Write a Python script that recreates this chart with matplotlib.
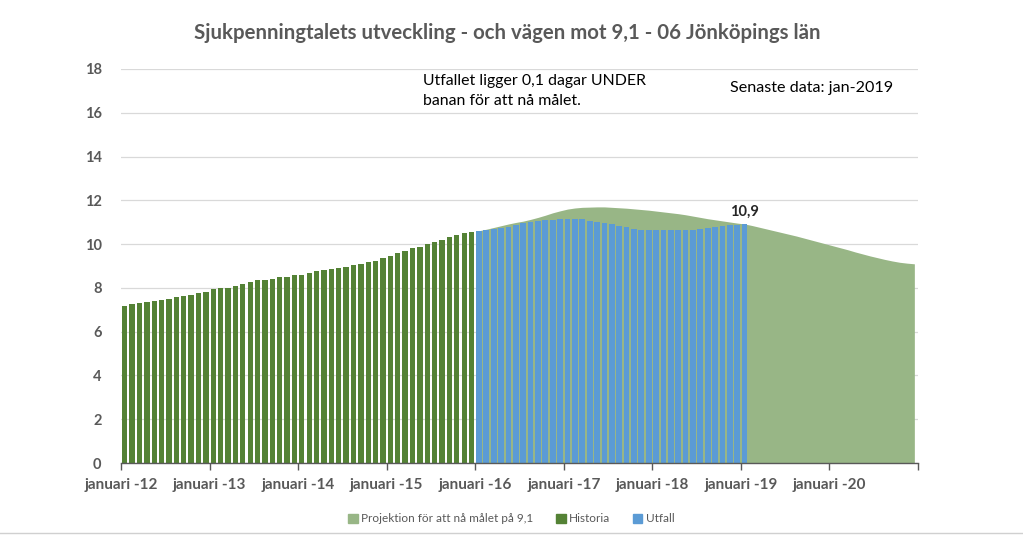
import matplotlib.pyplot as plt
import numpy as np

plt.rcParams['font.family'] = ['Lato', 'DejaVu Sans']

# månadsvärden, jan-12 .. dec-15
historia = [7.17, 7.28, 7.32, 7.37, 7.42, 7.43, 7.49, 7.57, 7.61, 7.69, 7.77, 7.83,
            7.96, 7.98, 8.01, 8.10, 8.16, 8.25, 8.34, 8.36, 8.42, 8.50, 8.51, 8.57,
            8.60, 8.69, 8.76, 8.80, 8.85, 8.91, 8.97, 9.05, 9.10, 9.17, 9.23, 9.35,
            9.46, 9.59, 9.70, 9.81, 9.87, 10.00, 10.10, 10.20, 10.31, 10.40, 10.52, 10.57]

# jan-16 .. jan-19
utfall = [10.61, 10.64, 10.67, 10.72, 10.80, 10.89, 10.95, 11.01, 11.06, 11.09, 11.12, 11.15,
          11.16, 11.16, 11.13, 11.07, 11.00, 10.95, 10.90, 10.84, 10.77, 10.70, 10.64, 10.63,
          10.63, 10.63, 10.63, 10.64, 10.66, 10.66, 10.67, 10.74, 10.80, 10.83, 10.86, 10.89,
          10.92]

# jan-16 .. dec-20
projektion = [10.61, 10.68, 10.76, 10.84, 10.92, 10.99, 11.05, 11.13, 11.22, 11.32, 11.43, 11.52,
              11.60, 11.65, 11.68, 11.69, 11.70, 11.70, 11.68, 11.66, 11.64, 11.61, 11.58, 11.55,
              11.51, 11.47, 11.43, 11.39, 11.34, 11.28, 11.22, 11.16, 11.11, 11.06, 11.01, 10.96,
              10.92, 10.85, 10.77, 10.69, 10.61, 10.53, 10.45, 10.37, 10.28, 10.19, 10.10, 10.01,
              9.92, 9.83, 9.74, 9.64, 9.55, 9.46, 9.38, 9.30, 9.23, 9.17, 9.13, 9.10]

year_labels = ['januari -12', 'januari -13', 'januari -14', 'januari -15', 'januari -16',
               'januari -17', 'januari -18', 'januari -19', 'januari -20']

grey = '#595959'
c_hist = '#548235'
c_utf = '#5B9BD5'
c_proj = '#98B686'

fig = plt.figure(figsize=(10.23, 5.39), dpi=100)
ax = fig.add_axes([0.1183, 0.1410, 0.7791, 0.731])

x_hist = np.arange(len(historia))
x_utf = np.arange(len(utfall)) + len(historia)
x_proj = np.arange(len(projektion)) + len(historia)

ax.fill_between(x_proj, 0, projektion, color=c_proj, lw=0, zorder=2)
ax.bar(x_hist, historia, width=0.72, color=c_hist, zorder=3)
ax.bar(x_utf, utfall, width=0.78, color=c_utf, zorder=3)

ax.text(x_utf[-1], utfall[-1] + 0.25, '10,9', ha='center', va='bottom',
        fontsize=10.5, fontweight='bold', color='#262626', zorder=5)

ax.set_xlim(-0.5, 107.5)
ax.set_ylim(0, 18)
ax.set_yticks(np.arange(0, 19, 2))
ax.set_xticks(np.arange(len(year_labels)) * 12 - 0.5)
ax.set_xticklabels(year_labels)
ax.set_xticks([107.5], minor=True)
ax.tick_params(axis='x', which='both', direction='out', length=5, color=grey, width=1,
               labelsize=11, labelcolor=grey, pad=6)
ax.tick_params(axis='y', length=0, labelsize=10.5, labelcolor=grey, pad=14)
for lab in ax.get_xticklabels() + ax.get_yticklabels():
    lab.set_fontweight('bold')

ax.grid(axis='y', color='#D9D9D9', lw=0.9, zorder=0)
ax.set_axisbelow(True)
for s in ['top', 'left', 'right']:
    ax.spines[s].set_visible(False)
ax.spines['bottom'].set_color(grey)
ax.spines['bottom'].set_linewidth(1)
ax.spines['bottom'].set_zorder(6)

fig.text(0.496, 0.938, 'Sjukpenningtalets utveckling - och vägen mot 9,1 - 06 Jönköpings län',
         ha='center', va='center', fontsize=14.7, fontweight='bold', color=grey)

fig.text(423 / 1023, 1 - 74 / 539, 'Utfallet ligger 0,1 dagar UNDER\nbanan för att nå målet.',
         ha='left', va='top', fontsize=11.4, color='black', linespacing=1.55)
fig.text(730 / 1023, 1 - 88 / 539, 'Senaste data: jan-2019',
         ha='left', va='center', fontsize=11.6, color='black')

handles = [plt.Rectangle((0, 0), 1, 1, color=c) for c in (c_proj, c_hist, c_utf)]
fig.legend(handles, ['Projektion för att nå målet på 9,1', 'Historia', 'Utfall'],
           loc='center', bbox_to_anchor=(0.5, 1 - 519 / 539), ncol=3, frameon=False,
           fontsize=8.5, handlelength=0.8, handleheight=0.8, handletextpad=0.3,
           columnspacing=1.9, labelcolor=grey)

fig.add_artist(plt.Line2D([0, 1], [1 - 533 / 539] * 2, color='#D0D0D0', lw=1))

fig.savefig('out.png', dpi=100)
